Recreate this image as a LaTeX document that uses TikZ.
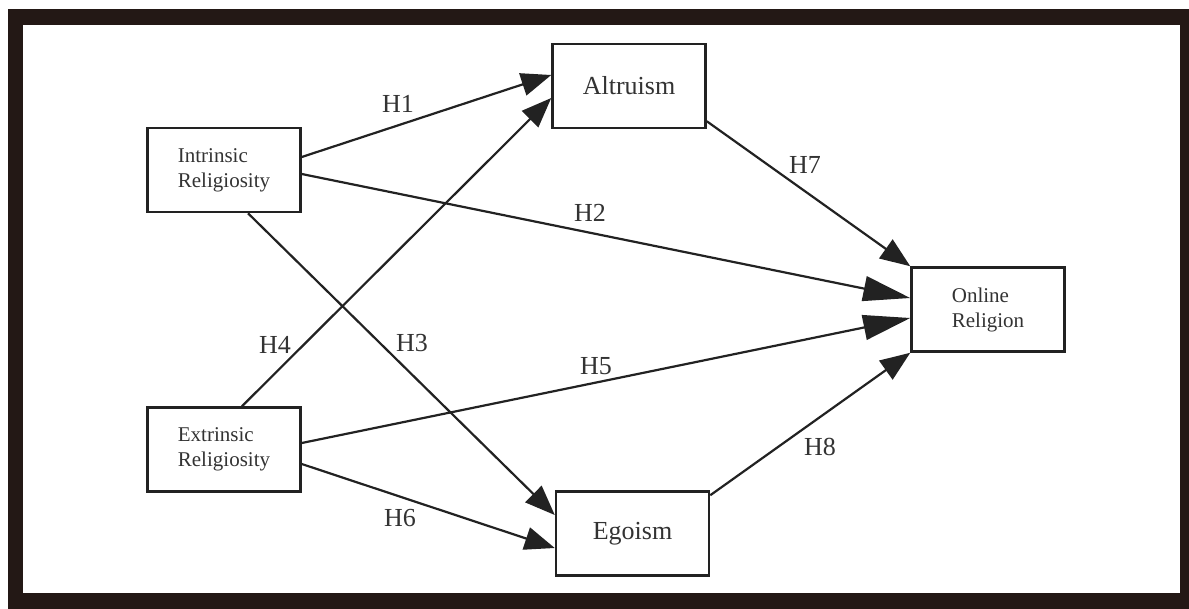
\documentclass[tikz,border=0pt]{standalone}
\usepackage{fontspec}
\setmainfont{Liberation Serif}
\usetikzlibrary{arrows.meta,calc}
\definecolor{framec}{HTML}{231815}
\definecolor{linec}{HTML}{222222}
\definecolor{textc}{HTML}{333333}
\begin{document}
\begin{tikzpicture}[x=1pt,y=-1pt,
  box/.style={draw=linec,line width=2.5pt,minimum width=153pt,minimum height=84pt,inner sep=0pt,text=textc},
  bigbox/.style={box,font=\fontsize{26}{30}\selectfont},
  smallbox/.style={box,font=\fontsize{21}{25}\selectfont,align=left},
  lbl/.style={text=textc,font=\fontsize{26}{30}\selectfont,inner sep=0pt},
  conn/.style={draw=linec,line width=2.2pt,-{Triangle[length=30pt,width=23pt]}},
  bigconn/.style={draw=linec,line width=2.2pt,-{Triangle[length=47pt,width=25pt]}}]
\useasboundingbox (0,0) rectangle (1189,608);
\fill[white] (0,0) rectangle (1189,608);
\draw[framec,line width=15.5pt] (15.5,17) rectangle (1188,601);
% nodes
\node[smallbox] (ir) at (224,170) {Intrinsic\\Religiosity};
\node[smallbox] (er) at (224,449.5) {Extrinsic\\Religiosity};
\node[bigbox] (alt) at (629,86) {Altruism};
\node[bigbox] (ego) at (632.5,533.5) {Egoism};
\node[smallbox] (onl) at (988,309.5) {Online\\Religion};
% connectors
\draw[conn] ([yshift=13pt]ir.east) -- ([yshift=11pt]alt.west);
\draw[bigconn] ([yshift=-4pt]ir.east) -- ([yshift=11.5pt]onl.west);
\draw[conn] ([xshift=24pt]ir.south) -- ([yshift=18.5pt]ego.west);
\draw[conn] ([xshift=18pt]er.north) -- ([yshift=-12pt]alt.west);
\draw[bigconn] ([yshift=6.5pt]er.east) -- ([yshift=-8.5pt]onl.west);
\draw[conn] ([yshift=-14.5pt]er.east) -- ([yshift=-14.5pt]ego.west);
\draw[conn] ([yshift=8pt]alt.south east) -- (onl.north west);
\draw[conn] ([yshift=-5pt]ego.north east) -- (onl.south west);
% labels
\node[lbl] (h1) at (398,104) {H1};
\node[lbl] (h2) at (590,213) {H2};
\node[lbl] (h3) at (412,343) {H3};
\node[lbl] (h4) at (275,345) {H4};
\node[lbl] (h5) at (596,366) {H5};
\node[lbl] (h6) at (400,518) {H6};
\node[lbl] (h7) at (805,165) {H7};
\node[lbl] (h8) at (820,447) {H8};
\end{tikzpicture}
\end{document}
